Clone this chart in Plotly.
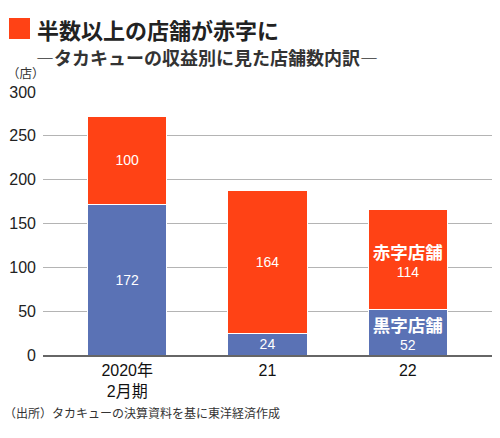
import plotly.graph_objects as go

categories = ["2020年<br>2月期", "21", "22"]
profit_stores = [172, 24, 52]
loss_stores = [100, 164, 114]
profit_label = "黒字店舗"
loss_label = "赤字店舗"
y_ticks = [0, 50, 100, 150, 200, 250, 300]

RED = "#FF4215"
BLUE = "#5A72B5"
FONT = "Liberation Sans, Noto Sans CJK JP, sans-serif"
JFONT = "Noto Sans CJK JP, sans-serif"

def labels(vals, name):
    out = []
    for i, v in enumerate(vals):
        if i == len(vals) - 1:
            out.append(f"<span style='font-size:17.5px;font-family:Noto Sans CJK JP;font-weight:bold'>{name}</span><br>{v}")
        else:
            out.append(str(v))
    return out

fig = go.Figure()
fig.add_trace(go.Bar(
    x=categories, y=profit_stores, name=profit_label,
    marker=dict(color=BLUE, line=dict(color="white", width=1)),
    text=labels(profit_stores, profit_label), textposition="inside",
    insidetextanchor="middle", constraintext="none", textangle=0,
    textfont=dict(color="white", size=14, family=FONT),
))
fig.add_trace(go.Bar(
    x=categories, y=loss_stores, name=loss_label,
    marker=dict(color=RED, line=dict(color="white", width=1)),
    text=labels(loss_stores, loss_label), textposition="inside",
    insidetextanchor="middle", constraintext="none", textangle=0,
    textfont=dict(color="white", size=14, family=FONT),
))

W, H = 500, 438
L, R, T, B = 43, 8, 92, 83
pw, ph = W - L - R, H - T - B

def px(x):
    return (x - L) / pw

def py(y):
    return (H - B - y) / ph

fig.update_layout(
    width=W, height=H, barmode="stack", bargap=0.436,
    margin=dict(l=L, r=R, t=T, b=B),
    paper_bgcolor="white", plot_bgcolor="white",
    showlegend=False,
    font=dict(family=FONT, color="#222", size=16),
    xaxis=dict(range=[-0.6, 2.6], showgrid=False, showline=True,
               linecolor="#666", linewidth=1.5, ticks="",
               tickfont=dict(size=16, color="#111", family=FONT), fixedrange=True),
    yaxis=dict(range=[0, 300], tickvals=y_ticks, showgrid=True,
               gridcolor="#b4b4b4", gridwidth=1, zeroline=False,
               ticks="", ticklabelstandoff=6,
               tickfont=dict(size=16, color="#222", family=FONT), fixedrange=True),
)

fig.add_shape(type="rect", xref="paper", yref="paper",
              x0=px(9), x1=px(30), y0=py(39), y1=py(18),
              fillcolor=RED, line=dict(width=0))
fig.add_annotation(xref="paper", yref="paper", x=px(35), y=py(29),
                   xanchor="left", yanchor="middle", showarrow=False,
                   text="<b>半数以上の店舗が赤字に</b>",
                   font=dict(family=JFONT, size=22, color="#222"))
fig.add_annotation(xref="paper", yref="paper", x=px(34), y=py(57),
                   xanchor="left", yanchor="middle", showarrow=False,
                   text="<b>―タカキューの収益別に見た店舗数内訳―</b>",
                   font=dict(family=JFONT, size=18, color="#333"))
fig.add_annotation(xref="paper", yref="paper", x=px(5), y=py(73),
                   xanchor="left", yanchor="middle", showarrow=False,
                   text="（店）",
                   font=dict(family=JFONT, size=12.5, color="#333"))
fig.add_annotation(xref="paper", yref="paper", x=px(2), y=py(413),
                   xanchor="left", yanchor="middle", showarrow=False,
                   text="（出所）タカキューの決算資料を基に東洋経済作成",
                   font=dict(family=JFONT, size=12, color="#333"))

fig.write_html("out.html")
